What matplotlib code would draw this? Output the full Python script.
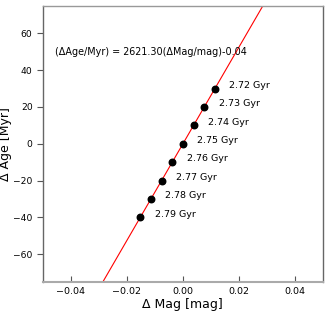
import numpy as np
import matplotlib
matplotlib.use("Agg")
import matplotlib.pyplot as plt

# isochrone offsets relative to 2.75 Gyr
ages = ['2.72', '2.73', '2.74', '2.75', '2.76', '2.77', '2.78', '2.79']
dage = [30, 20, 10, 0, -10, -20, -30, -40]   # Myr
slope = 2621.30
intercept = -0.04

dage = np.array(dage, dtype=float)
dmag = (dage - intercept) / slope

fig = plt.figure(figsize=(3.28, 3.15), dpi=100)
ax = fig.add_axes([0.131, 0.105, 0.853, 0.877])

yline = np.array([-80., 80.])
ax.plot((yline - intercept) / slope, yline, color='red', lw=0.8, zorder=1)
ax.scatter(dmag, dage, s=22, color='black', zorder=2)
for m, a, lab in zip(dmag, dage, ages):
    ax.text(m + 0.0052, a + 1.8, lab + ' Gyr', fontsize=6.8, va='center', ha='left')

ax.text(-0.0457, 50, '(ΔAge/Myr) = %.2f(ΔMag/mag)%.2f' % (slope, intercept),
        fontsize=6.9, va='center', ha='left')

ax.set_xlim(-0.05, 0.05)
ax.set_ylim(-75, 75)
ax.set_xticks([-0.04, -0.02, 0.0, 0.02, 0.04])
ax.set_yticks([-60, -40, -20, 0, 20, 40, 60])
ax.tick_params(axis='x', direction='in', length=4, labelsize=6.8, pad=4, color='#555555')
ax.tick_params(axis='y', direction='out', length=4, labelsize=6.6, color='#555555')
for s in ax.spines.values():
    s.set_color('#666666')
    s.set_linewidth(1.0)
ax.spines['bottom'].set_color('#aaaaaa')
ax.spines['bottom'].set_linewidth(1.5)
ax.spines['top'].set_color('#999999')

ax.set_xlabel('Δ Mag [mag]', fontsize=9, labelpad=1)
ax.set_ylabel('Δ Age [Myr]', fontsize=9)
ax.yaxis.set_label_coords(-0.112, 0.5)

fig.savefig('out.png', dpi=100)
